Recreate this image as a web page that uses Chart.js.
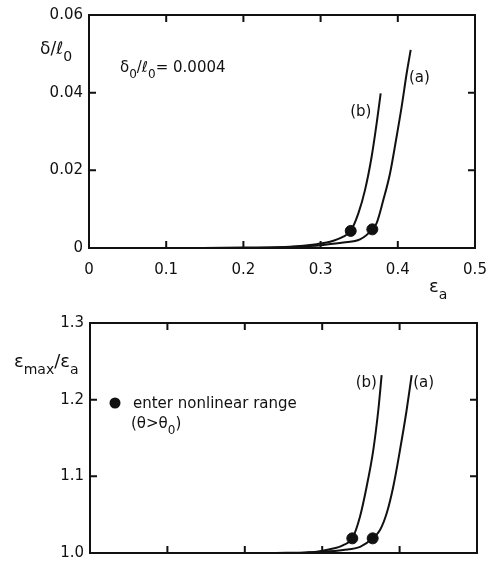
<!DOCTYPE html>
<html>
<head>
<meta charset="utf-8">
<script src="https://cdn.jsdelivr.net/npm/chart.js@4.4.0/dist/chart.umd.min.js"></script>
<style>
  body { margin: 0; background: #fff; }
  #wrap { position: relative; width: 486px; height: 562px; }
  #topChart { position: absolute; left: 0; top: 0; }
  #bottomChart { position: absolute; left: 0; top: 300px; }
</style>
</head>
<body>
<div id="wrap">
  <canvas id="topChart" width="486" height="300"></canvas>
  <canvas id="bottomChart" width="486" height="262"></canvas>
</div>
<script>
// tick values and labels
const xTicks = [0, 0.1, 0.2, 0.3, 0.4, 0.5];
const xTickLabels = ["0", "0.1", "0.2", "0.3", "0.4", "0.5"];
const deltaTicks = [0, 0.02, 0.04, 0.06];
const deltaTickLabels = ["0", "0.02", "0.04", "0.06"];
const strainTicks = [1.0, 1.1, 1.2, 1.3];
const strainTickLabels = ["1.0", "1.1", "1.2", "1.3"];

// top panel: delta / l0 vs eps_a
const deltaA_x = [0.12, 0.2, 0.25, 0.286, 0.3035, 0.3294, 0.351, 0.367, 0.3726, 0.3813, 0.3899, 0.3977, 0.405, 0.4115, 0.4167];
const deltaA_y = [0, 0.0001, 0.0002, 0.0005, 0.0008, 0.0014, 0.0022, 0.0048, 0.0064, 0.0124, 0.0192, 0.0278, 0.0364, 0.045, 0.051];
const deltaB_x = [0.21, 0.26, 0.295, 0.3122, 0.3294, 0.339, 0.3489, 0.3575, 0.3661, 0.3726, 0.3778];
const deltaB_y = [0, 0.0003, 0.001, 0.0016, 0.0029, 0.0044, 0.0089, 0.0149, 0.0235, 0.0321, 0.0398];
// entry into nonlinear range
const deltaDots_x = [0.339, 0.367];
const deltaDots_y = [0.0044, 0.0048];

// bottom panel: eps_max / eps_a vs eps_a
const strainA_x = [0.24, 0.28, 0.3014, 0.327, 0.349, 0.3652, 0.3747, 0.3833, 0.3918, 0.4005, 0.4091, 0.4156];
const strainA_y = [1.0, 1.0008, 1.0017, 1.004, 1.008, 1.0191, 1.03, 1.0518, 1.0865, 1.1343, 1.1865, 1.232];
const strainB_x = [0.27, 0.2929, 0.31, 0.3272, 0.3389, 0.3488, 0.3574, 0.366, 0.3725, 0.3768];
const strainB_y = [1.0, 1.0017, 1.0048, 1.0104, 1.0191, 1.0474, 1.0865, 1.1343, 1.1865, 1.232];
const strainDots_x = [0.3389, 0.3652];
const strainDots_y = [1.0191, 1.0191];

const FONT = "DejaVu Sans";
const INK = "#111";

const pts = (xs, ys) => xs.map((x, i) => ({ x: x, y: ys[i] }));

function curve(xs, ys) {
  return {
    data: pts(xs, ys),
    showLine: true,
    borderColor: INK,
    borderWidth: 2,
    pointRadius: 0,
    cubicInterpolationMode: "monotone",
  };
}

function dots(xs, ys) {
  return {
    data: pts(xs, ys),
    showLine: false,
    pointRadius: 5.5,
    pointBackgroundColor: INK,
    pointBorderColor: INK,
  };
}

// text with subscript parts
function subText(ctx, x, y, parts, size) {
  let cx = x;
  ctx.fillStyle = INK;
  ctx.textAlign = "left";
  ctx.textBaseline = "alphabetic";
  parts.forEach((p) => {
    const s = p.sub ? Math.round(size * 0.8) : size;
    ctx.font = s + "px '" + FONT + "'";
    ctx.fillText(p.t, cx, y + (p.sub ? size * 0.4 : 0));
    cx += ctx.measureText(p.t).width;
  });
}

// box round the plot with inward ticks on all four sides
const framePlugin = {
  id: "frame",
  afterDatasetsDraw(chart) {
    const ctx = chart.ctx;
    const a = chart.chartArea;
    const xs = chart.scales.x;
    const ys = chart.scales.y;
    ctx.save();
    ctx.strokeStyle = INK;
    ctx.lineWidth = 2;
    ctx.strokeRect(a.left, a.top, a.right - a.left, a.bottom - a.top);
    ctx.beginPath();
    xs.ticks.forEach((t) => {
      const px = xs.getPixelForValue(t.value);
      ctx.moveTo(px, a.bottom);
      ctx.lineTo(px, a.bottom - 7);
      ctx.moveTo(px, a.top);
      ctx.lineTo(px, a.top + 7);
    });
    ys.ticks.forEach((t) => {
      const py = ys.getPixelForValue(t.value);
      ctx.moveTo(a.left, py);
      ctx.lineTo(a.left + 7, py);
      ctx.moveTo(a.right, py);
      ctx.lineTo(a.right - 7, py);
    });
    ctx.stroke();
    ctx.restore();
  },
};

function baseOptions(yMin, yMax, yTicks, yLabels, yWidth, xHeight, showXLabels, pad) {
  return {
    responsive: false,
    animation: false,
    layout: { padding: pad },
    plugins: { legend: { display: false }, tooltip: { enabled: false } },
    scales: {
      x: {
        type: "linear",
        min: 0,
        max: 0.5,
        afterBuildTicks: (s) => { s.ticks = xTicks.map((v) => ({ value: v })); },
        afterFit: (s) => {
          s.height = xHeight;
          s.paddingLeft = 0;
          s.paddingRight = 0;
        },
        grid: { display: false, drawTicks: false },
        border: { display: false },
        ticks: {
          display: showXLabels,
          padding: 13,
          color: INK,
          font: { family: FONT, size: 15 },
          callback: (v, i) => xTickLabels[i],
        },
      },
      y: {
        type: "linear",
        min: yMin,
        max: yMax,
        afterBuildTicks: (s) => { s.ticks = yTicks.map((v) => ({ value: v })); },
        afterFit: (s) => {
          s.width = yWidth;
          s.paddingTop = 0;
          s.paddingBottom = 0;
        },
        grid: { display: false, drawTicks: false },
        border: { display: false },
        ticks: {
          padding: 6,
          color: INK,
          font: { family: FONT, size: 15 },
          callback: (v, i) => yLabels[i],
        },
      },
    },
  };
}

const topNotes = {
  id: "topNotes",
  afterDraw(chart) {
    const ctx = chart.ctx;
    const xs = chart.scales.x;
    const ys = chart.scales.y;
    ctx.save();
    subText(ctx, 40, 54, [{ t: "δ/ℓ" }, { t: "0", sub: 1 }], 17);
    subText(ctx, 120, 72, [{ t: "δ" }, { t: "0", sub: 1 }, { t: "/ℓ" }, { t: "0", sub: 1 }, { t: "= 0.0004" }], 15);
    subText(ctx, 429, 292, [{ t: "ε" }, { t: "a", sub: 1 }], 18);
    ctx.font = "15px '" + FONT + "'";
    ctx.textAlign = "center";
    ctx.textBaseline = "middle";
    ctx.fillText("(a)", xs.getPixelForValue(0.428), ys.getPixelForValue(0.0438));
    ctx.fillText("(b)", xs.getPixelForValue(0.352), ys.getPixelForValue(0.035));
    ctx.restore();
  },
};

const bottomNotes = {
  id: "bottomNotes",
  afterDraw(chart) {
    const ctx = chart.ctx;
    const xs = chart.scales.x;
    const ys = chart.scales.y;
    ctx.save();
    subText(ctx, 14, 67, [{ t: "ε" }, { t: "max", sub: 1 }, { t: "/ε" }, { t: "a", sub: 1 }], 18);
    ctx.fillStyle = INK;
    ctx.beginPath();
    ctx.arc(115, 103, 5.5, 0, Math.PI * 2);
    ctx.fill();
    subText(ctx, 133, 108, [{ t: "enter nonlinear range" }], 15);
    subText(ctx, 131, 128, [{ t: "(θ>θ" }, { t: "0", sub: 1 }, { t: ")" }], 15);
    ctx.font = "15px '" + FONT + "'";
    ctx.textAlign = "center";
    ctx.textBaseline = "middle";
    ctx.fillText("(b)", xs.getPixelForValue(0.357), ys.getPixelForValue(1.222));
    ctx.fillText("(a)", xs.getPixelForValue(0.431), ys.getPixelForValue(1.222));
    ctx.restore();
  },
};

const topChart = new Chart(document.getElementById("topChart").getContext("2d"), {
  type: "scatter",
  data: {
    datasets: [
      curve(deltaA_x, deltaA_y),
      curve(deltaB_x, deltaB_y),
      dots(deltaDots_x, deltaDots_y),
    ],
  },
  options: baseOptions(0, 0.06, deltaTicks, deltaTickLabels, 89, 52, true,
    { top: 15, right: 11, left: 0, bottom: 0 }),
  plugins: [framePlugin, topNotes],
});

const bottomChart = new Chart(document.getElementById("bottomChart").getContext("2d"), {
  type: "scatter",
  data: {
    datasets: [
      curve(strainA_x, strainA_y),
      curve(strainB_x, strainB_y),
      dots(strainDots_x, strainDots_y),
    ],
  },
  options: baseOptions(1.0, 1.3, strainTicks, strainTickLabels, 90, 9, false,
    { top: 23, right: 9, left: 0, bottom: 0 }),
  plugins: [framePlugin, bottomNotes],
});
</script>
</body>
</html>
